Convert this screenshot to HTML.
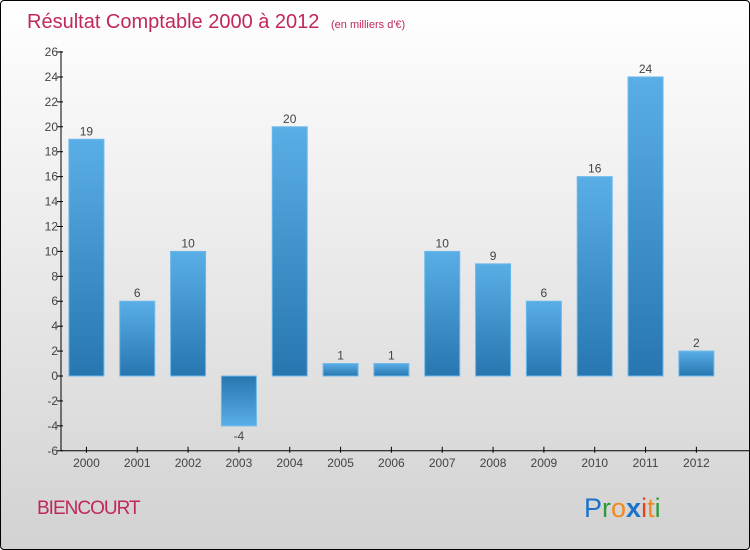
<!DOCTYPE html>
<html><head><meta charset="utf-8"><style>
body{margin:0}
#c{position:relative;width:748px;height:548px;border:1px solid #000;border-radius:4px;background:linear-gradient(#fff,#d2d2d2);overflow:hidden;font-family:"Liberation Sans",sans-serif}
</style></head><body>
<div id="c">
<svg id="s" width="748" height="548">
<defs>
<linearGradient id="gp" x1="0" y1="0" x2="0" y2="1"><stop offset="0" stop-color="#5aaee6"/><stop offset="1" stop-color="#2776b0"/></linearGradient>
<linearGradient id="gn" x1="0" y1="0" x2="0" y2="1"><stop offset="0" stop-color="#2776b0"/><stop offset="1" stop-color="#5aaee6"/></linearGradient>
</defs>
<text x="26" y="27" font-size="20" fill="#c0275a">Résultat Comptable 2000 à 2012 <tspan font-size="11" dx="6">(en milliers d'€)</tspan></text>
<text x="36" y="513" font-size="19" fill="#c0275a" letter-spacing="-1">BIENCOURT</text>
<g font-size="27" font-family="Liberation Sans,sans-serif">
<text x="583" y="516"><tspan fill="#1a73c8">P</tspan><tspan fill="#2e9a3a">r</tspan><tspan fill="#f08a1c">o</tspan><tspan fill="#1a73c8" font-weight="bold">x</tspan><tspan fill="#e8401c">i</tspan><tspan fill="#f08a1c">t</tspan><tspan fill="#2e9a3a">i</tspan></text>
</g>
<g id="g"></g>
</svg></div>
<script>
const categories=["2000","2001","2002","2003","2004","2005","2006","2007","2008","2009","2010","2011","2012"];
const values=[19,6,10,-4,20,1,1,10,9,6,16,24,2];
const ticks=[-6,-4,-2,0,2,4,6,8,10,12,14,16,18,20,22,24,26];
const NS="http://www.w3.org/2000/svg",g=document.getElementById('g');
const x0=60,band=50.83,bw=35;
const y=v=>375-v*12.46;
const xc=i=>x0+band*(i+0.5);
function mk(t,a,txt){const e=document.createElementNS(NS,t);for(const k in a)e.setAttribute(k,a[k]);if(txt!=null)e.textContent=txt;g.appendChild(e);return e;}
let e=mk('line',{x1:x0,y1:y(26)-1,x2:x0,y2:y(-6),stroke:'#000'});


e=mk('line',{x1:x0,y1:y(-6),x2:748,y2:y(-6),stroke:'#000'});


ticks.forEach(t=>{
 mk('line',{x1:x0-4,y1:y(t),x2:x0+2,y2:y(t),stroke:'#000'});
 e=mk('text',{x:x0-3,y:y(t)+4,'text-anchor':'end','font-size':12,fill:'#444'},t);
 
 
});
categories.forEach((c,i)=>{
 const v=values[i],cx=xc(i);
 mk('line',{x1:cx,y1:y(-6)-4,x2:cx,y2:y(-6)+2,stroke:'#000'});
 e=mk('text',{x:cx,y:y(-6)+16,'text-anchor':'middle','font-size':12,fill:'#444'},c);
 
 
 const top=Math.min(y(v),y(0)),h=Math.abs(y(v)-y(0));
 e=mk('rect',{x:cx-bw/2,y:top,width:bw,height:h,fill:v>=0?'url(#gp)':'url(#gn)',stroke:'#6cb8ec','stroke-width':1});
 
 
 e=mk('text',{x:cx,y:v>=0?y(v)-4:y(v)+14,'text-anchor':'middle','font-size':12,fill:'#444'},v);
 
 
});
</script>
</body></html>
